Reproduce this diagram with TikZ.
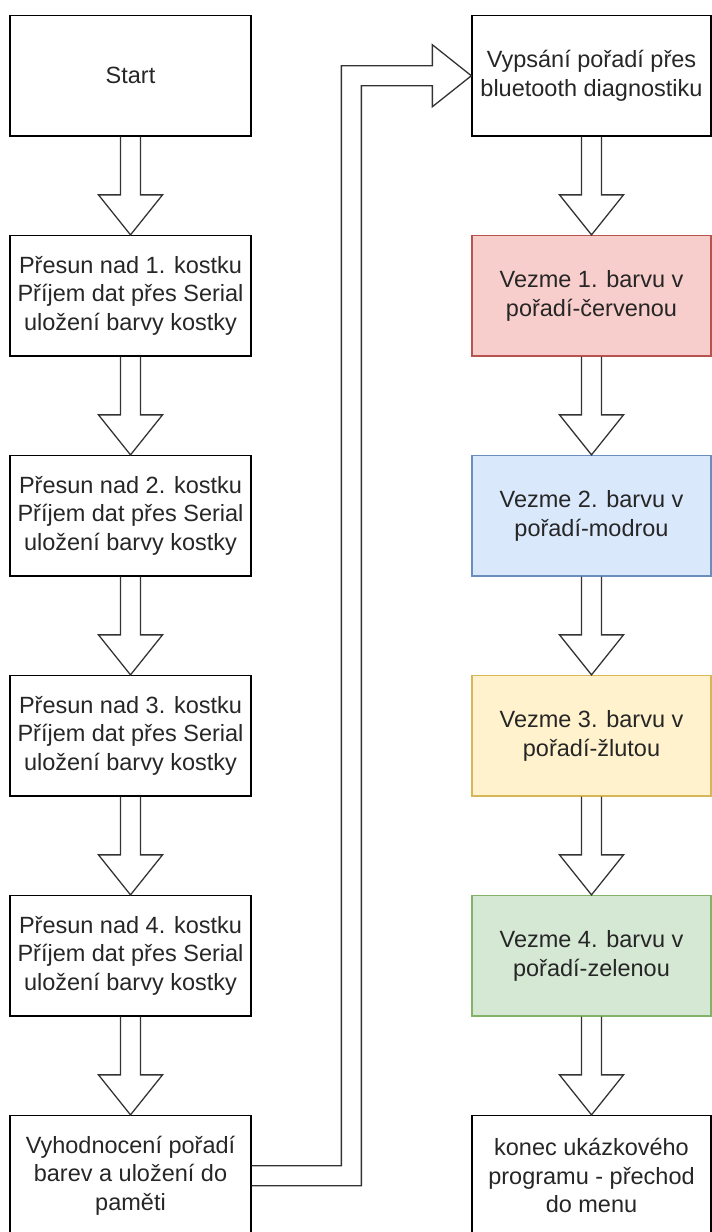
\documentclass[tikz,border=0pt]{standalone}
\usepackage{fontspec}
\setmainfont{Liberation Sans}
\usetikzlibrary{calc}

\definecolor{redfill}{HTML}{F8CECC}
\definecolor{redline}{HTML}{B85450}
\definecolor{bluefill}{HTML}{DAE8FC}
\definecolor{blueline}{HTML}{6C8EBF}
\definecolor{yellowfill}{HTML}{FFF2CC}
\definecolor{yellowline}{HTML}{D6B656}
\definecolor{greenfill}{HTML}{D5E8D4}
\definecolor{greenline}{HTML}{82B366}

\tikzset{
  stepbox/.style={draw=black, line width=1.3pt, minimum width=241pt,
    minimum height=120.5pt, inner sep=0pt, align=center, text=black!85,
    font=\fontsize{23.5}{28.5}\selectfont},
  rightbox/.style={stepbox, minimum width=239pt},
  arrline/.style={draw=black!80, line width=1.3pt, line join=miter},
}

% Block arrow from the bottom of one box to the top of the next
\newcommand{\blockarr}[2]{%
  \draw[arrline] ($(#1.south)+(-\sw,0)$) -- ($(#2.north)+(-\sw,-\hl)$)
    -- ($(#2.north)+(-\hw,-\hl)$) -- (#2.north) -- ($(#2.north)+(\hw,-\hl)$)
    -- ($(#2.north)+(\sw,-\hl)$) -- ($(#1.south)+(\sw,0)$);}

\begin{document}
\begin{tikzpicture}[x=1pt, y=-1pt]
  \def\sw{10}
  \def\hw{32}
  \def\hl{40}
  \clip (0,0) rectangle (712,1232);

  % Left column
  \node[stepbox] (start) at (130.5, 75.75) {Start};
  \node[stepbox] (s1) at (130.5, 295.75) {Přesun nad 1. kostku\\Příjem dat přes Serial\\uložení barvy kostky};
  \node[stepbox] (s2) at (130.5, 515.75) {Přesun nad 2. kostku\\Příjem dat přes Serial\\uložení barvy kostky};
  \node[stepbox] (s3) at (130.5, 735.75) {Přesun nad 3. kostku\\Příjem dat přes Serial\\uložení barvy kostky};
  \node[stepbox] (s4) at (130.5, 955.75) {Přesun nad 4. kostku\\Příjem dat přes Serial\\uložení barvy kostky};
  \node[stepbox] (eval) at (130.5, 1175.75) {Vyhodnocení pořadí\\barev a uložení do\\paměti};

  % Right column
  \node[rightbox] (bt) at (591.5, 75.75) {Vypsání pořadí přes\\bluetooth diagnostiku};
  \node[rightbox, draw=redline, fill=redfill] (red) at (591.5, 295.75) {Vezme 1. barvu v\\pořadí-červenou};
  \node[rightbox, draw=blueline, fill=bluefill] (blue) at (591.5, 515.75) {Vezme 2. barvu v\\pořadí-modrou};
  \node[rightbox, draw=yellowline, fill=yellowfill] (yellow) at (591.5, 735.75) {Vezme 3. barvu v\\pořadí-žlutou};
  \node[rightbox, draw=greenline, fill=greenfill] (green) at (591.5, 955.75) {Vezme 4. barvu v\\pořadí-zelenou};
  \node[rightbox] (end) at (591.5, 1175.75) {konec ukázkového\\programu - přechod\\do menu};

  % Block arrows
  \blockarr{start}{s1}
  \blockarr{s1}{s2}
  \blockarr{s2}{s3}
  \blockarr{s3}{s4}
  \blockarr{s4}{eval}
  \blockarr{bt}{red}
  \blockarr{red}{blue}
  \blockarr{blue}{yellow}
  \blockarr{yellow}{green}
  \blockarr{green}{end}

  % Bent arrow to the right column
  \draw[arrline] ($(eval.east)+(0,-10)$) -| ($(bt.west)+(-130,-10)$)
    -- ($(bt.west)+(-39,-10)$) -- ($(bt.west)+(-39,-31)$) -- (bt.west)
    -- ($(bt.west)+(-39,31)$) -- ($(bt.west)+(-39,10)$)
    -- ($(bt.west)+(-110,10)$) |- ($(eval.east)+(0,10)$);
\end{tikzpicture}
\end{document}
